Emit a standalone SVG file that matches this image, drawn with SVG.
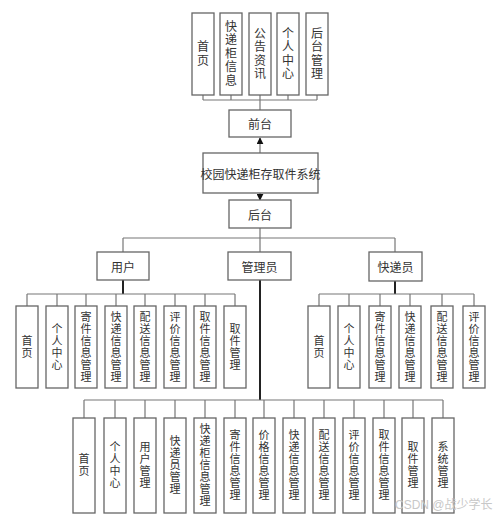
<svg xmlns="http://www.w3.org/2000/svg" width="499" height="517" viewBox="0 0 499 517">
<style>
.b{fill:#fff;stroke:#666;stroke-width:1.3}
.t{font-family:"Noto Sans CJK SC","Noto Sans",sans-serif;font-size:12px;fill:#333;text-anchor:middle;dominant-baseline:central}
.v{font-family:"Noto Sans CJK SC","Noto Sans",sans-serif;font-size:11px;letter-spacing:1px;fill:#333;text-anchor:middle;writing-mode:vertical-rl}
.vt{font-size:12px;letter-spacing:1.5px}
.c{fill:none;stroke:#777;stroke-width:1.2}
.k{fill:none;stroke:#222;stroke-width:2}
.wm{font-family:"Liberation Sans","Noto Sans CJK SC",sans-serif;font-size:12px;fill:#c8c8c8}
</style>
<defs>
<marker id="ah" viewBox="0 0 10 10" refX="9" refY="5" markerWidth="7" markerHeight="7" markerUnits="userSpaceOnUse" orient="auto"><path d="M0,0 L10,5 L0,10 Z" fill="#111"/></marker>
</defs>
<rect x="0" y="0" width="499" height="517" fill="#fff"/>
<g id="connectors">
<path class="c" d="M203,95V100M231,95V100M260,95V100M288,95V100M317,95V100M203,100H317M260,100V110"/>
<path class="c" d="M260,153V138" stroke="#222" marker-end="url(#ah)"/>
<path class="c" d="M260,193V200" stroke="#222" marker-end="url(#ah)"/>
<path class="c" d="M260,228V238M123,238H395M123,238V252M260,238V252M395,238V252"/>
<path class="k" d="M123,280V294" stroke-width="1.6"/>
<path class="c" d="M27,294H235M27,294V306M57,294V306M86,294V306M116,294V306M145,294V306M175,294V306M205,294V306M235,294V306"/>
<path class="k" d="M395,281V294" stroke-width="1.6"/>
<path class="c" d="M319,294H474M319,294V306M349,294V306M380,294V306M410,294V306M442,294V306M474,294V306"/>
<path class="k" d="M260,280V400"/>
<path class="c" d="M84,400H443M84,400V418M115,400V418M145,400V418M175,400V418M205,400V418M235,400V418M264,400V418M294,400V418M324,400V418M354,400V418M384,400V418M413,400V418M443,400V418"/>
</g>
<g id="n_top1"><rect class="b" x="192" y="13" width="22" height="82"/><text class="v vt" x="203" y="54">首页</text></g>
<g id="n_top2"><rect class="b" x="220" y="13" width="22" height="82"/><text class="v vt" x="231" y="54">快递柜信息</text></g>
<g id="n_top3"><rect class="b" x="249" y="13" width="22" height="82"/><text class="v vt" x="260" y="54">公告资讯</text></g>
<g id="n_top4"><rect class="b" x="277" y="13" width="22" height="82"/><text class="v vt" x="288" y="54">个人中心</text></g>
<g id="n_top5"><rect class="b" x="306" y="13" width="22" height="82"/><text class="v vt" x="317" y="54">后台管理</text></g>
<g id="n_front"><rect class="b" x="229" y="110" width="62" height="27"/><text class="t" x="260" y="123.5">前台</text></g>
<g id="n_system"><rect class="b" x="203" y="153" width="115" height="40"/><text class="t" x="260.5" y="173">校园快递柜存取件系统</text></g>
<g id="n_back"><rect class="b" x="229" y="200" width="62" height="28"/><text class="t" x="260" y="214">后台</text></g>
<g id="n_user"><rect class="b" x="97" y="252" width="52" height="28"/><text class="t" x="123" y="266">用户</text></g>
<g id="n_admin"><rect class="b" x="228" y="252" width="63" height="28"/><text class="t" x="259.5" y="266">管理员</text></g>
<g id="n_courier"><rect class="b" x="369" y="252" width="53" height="29"/><text class="t" x="395.5" y="266.5">快递员</text></g>
<g id="u1"><rect class="b" x="16" y="306" width="22" height="82"/><text class="v" x="27" y="347">首页</text></g>
<g id="u2"><rect class="b" x="46" y="306" width="22" height="82"/><text class="v" x="57" y="347">个人中心</text></g>
<g id="u3"><rect class="b" x="75" y="306" width="22" height="82"/><text class="v" x="86" y="347">寄件信息管理</text></g>
<g id="u4"><rect class="b" x="105" y="306" width="22" height="82"/><text class="v" x="116" y="347">快递信息管理</text></g>
<g id="u5"><rect class="b" x="134" y="306" width="22" height="82"/><text class="v" x="145" y="347">配送信息管理</text></g>
<g id="u6"><rect class="b" x="164" y="306" width="22" height="82"/><text class="v" x="175" y="347">评价信息管理</text></g>
<g id="u7"><rect class="b" x="194" y="306" width="22" height="82"/><text class="v" x="205" y="347">取件信息管理</text></g>
<g id="u8"><rect class="b" x="224" y="306" width="22" height="82"/><text class="v" x="235" y="347">取件管理</text></g>
<g id="c1"><rect class="b" x="308" y="306" width="22" height="82"/><text class="v" x="319" y="347">首页</text></g>
<g id="c2"><rect class="b" x="338" y="306" width="22" height="82"/><text class="v" x="349" y="347">个人中心</text></g>
<g id="c3"><rect class="b" x="369" y="306" width="22" height="82"/><text class="v" x="380" y="347">寄件信息管理</text></g>
<g id="c4"><rect class="b" x="399" y="306" width="22" height="82"/><text class="v" x="410" y="347">快递信息管理</text></g>
<g id="c5"><rect class="b" x="431" y="306" width="22" height="82"/><text class="v" x="442" y="347">配送信息管理</text></g>
<g id="c6"><rect class="b" x="463" y="306" width="22" height="82"/><text class="v" x="474" y="347">评价信息管理</text></g>
<g id="a1"><rect class="b" x="73" y="418" width="22" height="95"/><text class="v" x="84" y="465.5">首页</text></g>
<g id="a2"><rect class="b" x="104" y="418" width="22" height="95"/><text class="v" x="115" y="465.5">个人中心</text></g>
<g id="a3"><rect class="b" x="134" y="418" width="22" height="95"/><text class="v" x="145" y="465.5">用户管理</text></g>
<g id="a4"><rect class="b" x="164" y="418" width="22" height="95"/><text class="v" x="175" y="465.5">快递员管理</text></g>
<g id="a5"><rect class="b" x="194" y="418" width="22" height="95"/><text class="v" x="205" y="465.5">快递柜信息管理</text></g>
<g id="a6"><rect class="b" x="224" y="418" width="22" height="95"/><text class="v" x="235" y="465.5">寄件信息管理</text></g>
<g id="a7"><rect class="b" x="253" y="418" width="22" height="95"/><text class="v" x="264" y="465.5">价格信息管理</text></g>
<g id="a8"><rect class="b" x="283" y="418" width="22" height="95"/><text class="v" x="294" y="465.5">快递信息管理</text></g>
<g id="a9"><rect class="b" x="313" y="418" width="22" height="95"/><text class="v" x="324" y="465.5">配送信息管理</text></g>
<g id="a10"><rect class="b" x="343" y="418" width="22" height="95"/><text class="v" x="354" y="465.5">评价信息管理</text></g>
<g id="a11"><rect class="b" x="373" y="418" width="22" height="95"/><text class="v" x="384" y="465.5">取件信息管理</text></g>
<g id="a12"><rect class="b" x="402" y="418" width="22" height="95"/><text class="v" x="413" y="465.5">取件管理</text></g>
<g id="a13"><rect class="b" x="432" y="418" width="22" height="95"/><text class="v" x="443" y="465.5">系统管理</text></g>
<text class="wm" x="395" y="509">CSDN @战少学长</text>
</svg>
